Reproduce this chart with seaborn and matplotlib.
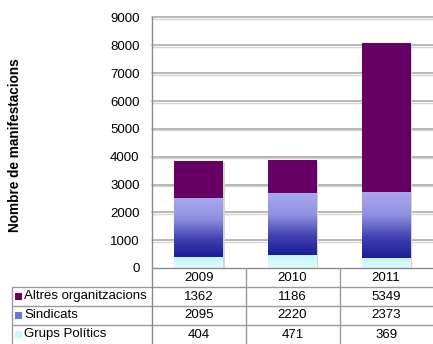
import numpy as np
import pandas as pd
import matplotlib
matplotlib.use("Agg")
import matplotlib.pyplot as plt
import matplotlib.transforms as mtransforms
from matplotlib.lines import Line2D
from matplotlib.patches import Rectangle
from matplotlib.colors import LinearSegmentedColormap
import seaborn as sns

# Data
years = ["2009", "2010", "2011"]
series = ["Altres organitzacions", "Sindicats", "Grups Polítics"]
altres = [1362, 1186, 5349]
sindicats = [2095, 2220, 2373]
grups = [404, 471, 369]
yticks = [0, 1000, 2000, 3000, 4000, 5000, 6000, 7000, 8000, 9000]

sns.set_theme(style="white")
plt.rcParams["font.family"] = ["Liberation Sans", "DejaVu Sans"]

W, H = 433, 344
fig = plt.figure(figsize=(W / 100, H / 100), dpi=100)
fig.patch.set_facecolor("white")

def fx(px):
    return px / W

def fy(py):
    return 1 - py / H

left, right, top, bottom = 152, 433, 17.5, 268
ax = fig.add_axes([fx(left), fy(bottom), fx(right) - fx(left), fy(top) - fy(bottom)])
ax.patch.set_visible(False)

df = pd.DataFrame({"year": years, "altres": altres, "sindicats": sindicats, "grups": grups})
df["lower"] = df["grups"] + df["sindicats"]
df["total"] = df["lower"] + df["altres"]

purple = "#660066"
cyan_top, cyan_bot = "#bff4f4", "#e2fdfd"
blue_cmap = LinearSegmentedColormap.from_list(
    "sind", [(0.0, "#1c1c94"), (0.3, "#4040b0"), (0.65, "#9090e0"), (1.0, "#a8a8ee")])
cyan_cmap = LinearSegmentedColormap.from_list("grups", [cyan_bot, cyan_top])

bw = 0.52

# stacked columns: totals at the back, lower segments drawn over them
sns.barplot(data=df, x="year", y="total", color=purple, saturation=1, width=bw, ax=ax, zorder=2)
n0 = len(ax.patches)
sns.barplot(data=df, x="year", y="lower", color="#7070d0", saturation=1, width=bw, ax=ax, zorder=3)
sind_patches = ax.patches[n0:]
n1 = len(ax.patches)
sns.barplot(data=df, x="year", y="grups", color=cyan_top, saturation=1, width=bw, ax=ax, zorder=4)
grup_patches = ax.patches[n1:]

# faint drop shadow at the right side of each column
bar_shadow_tr = mtransforms.offset_copy(ax.transData, fig=fig, x=1.5, y=-1.0, units="dots")
for p in list(ax.patches)[:n0]:
    p.set_edgecolor("none")
    ax.add_patch(Rectangle((p.get_x(), p.get_y()), p.get_width(), p.get_height(),
                           transform=bar_shadow_tr, facecolor="#d4d4d4", edgecolor="none",
                           zorder=1.8))

grad = np.linspace(0, 1, 256).reshape(-1, 1)
for p, g in zip(sind_patches, grups):
    x0, w, h = p.get_x(), p.get_width(), p.get_height()
    im = ax.imshow(grad, cmap=blue_cmap, extent=[x0, x0 + w, g, h], origin="lower",
                   aspect="auto", zorder=3.5, interpolation="bilinear")
    im.set_clip_path(p)
    p.set_edgecolor("none")
for p in grup_patches:
    x0, w, h = p.get_x(), p.get_width(), p.get_height()
    im = ax.imshow(grad, cmap=cyan_cmap, extent=[x0, x0 + w, 0, h], origin="lower",
                   aspect="auto", zorder=4.5, interpolation="bilinear")
    im.set_clip_path(p)
    p.set_edgecolor("none")

ax.set_xlim(-0.5, 2.5)
ax.set_ylim(0, 9000)
ax.set_yticks(yticks)
ax.set_yticklabels([str(v) for v in yticks], fontsize=9.5, color="black")
ax.tick_params(axis="y", length=0, pad=9)
ax.tick_params(axis="x", length=0, labelbottom=False)
ax.set_xlabel("")
ax.set_ylabel("")

for s in ["top", "right", "bottom"]:
    ax.spines[s].set_visible(False)
ax.spines["left"].set_color("#8a8a8a")
ax.spines["left"].set_linewidth(1.0)

# horizontal gridlines (behind the axes content) with a soft shadow under each
grid_tr = mtransforms.blended_transform_factory(fig.transFigure, ax.transData)
grid_shadow_tr = mtransforms.offset_copy(grid_tr, fig=fig, x=0, y=-1.5, units="dots")
for v in yticks[1:]:
    fig.add_artist(Line2D([fx(left), fx(right)], [v, v], transform=grid_shadow_tr,
                          color="#d6d6d6", lw=1.0, zorder=-2, snap=True))
    fig.add_artist(Line2D([fx(left), fx(right)], [v, v], transform=grid_tr,
                          color="#a4a4a4", lw=1.1, zorder=-1, snap=True))

fig.text(fx(15.5), fy(145), "Nombre de manifestacions", rotation=90, ha="center", va="center",
         fontsize=9.8, fontweight="bold", color="black")

# data table under the plot
line_col = "#9a9a9a"
def hline(y, x0, x1, c=line_col):
    fig.add_artist(Line2D([fx(x0), fx(x1)], [fy(y), fy(y)], color=c, lw=1.0))

def vline(x, y0, y1, c=line_col):
    fig.add_artist(Line2D([fx(x), fx(x)], [fy(y0), fy(y1)], color=c, lw=1.0))

hline(268, left, right, "#8a8a8a")
for y in [287, 306, 325]:
    hline(y, 12, right)
vline(12, 287, 344)
vline(left, 268, 344, "#8a8a8a")
for x in [246, 340]:
    vline(x, 268, 344)

col_centers = [fx(left) + (i + 0.5) * (fx(right) - fx(left)) / 3 for i in range(3)]
for cx, yr in zip(col_centers, years):
    fig.text(cx, fy(278), yr, ha="center", va="center", fontsize=9.5, color="black")

row_y = [296.5, 315.5, 334.5]
rows = [altres, sindicats, grups]
swatch = [purple, "#7474d4", "#c8f8f8"]
for ry, name, vals, c in zip(row_y, series, rows, swatch):
    fig.add_artist(Rectangle((fx(15), fy(ry + 3.5)), fx(7), 7 / H, facecolor=c,
                             edgecolor="none", transform=fig.transFigure))
    fig.text(fx(24.5), fy(ry), name, ha="left", va="center", fontsize=9.5, color="black")
    for cx, v in zip(col_centers, vals):
        fig.text(cx, fy(ry), str(v), ha="center", va="center", fontsize=9.5, color="black")

fig.savefig("out.png", dpi=100, facecolor="white")
